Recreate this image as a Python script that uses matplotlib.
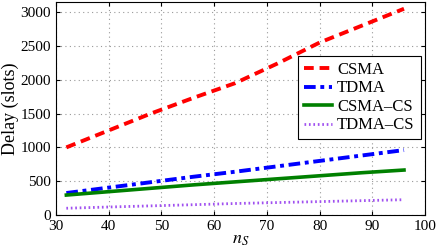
import matplotlib
matplotlib.use("Agg")
import matplotlib.pyplot as plt

n_s = [32, 40, 48, 56, 64, 72, 80, 88, 96]
csma = [1000, 1250, 1500, 1730, 1950, 2240, 2550, 2800, 3050]
tdma = [325, 405, 485, 565, 640, 720, 800, 880, 960]
csma_cs = [295, 345, 395, 445, 490, 535, 580, 625, 665]
tdma_cs = [100, 118, 135, 152, 170, 184, 198, 212, 226]

plt.rcParams['font.family'] = ['Liberation Serif', 'DejaVu Serif']
plt.rcParams['mathtext.fontset'] = 'stix'

fig = plt.figure(figsize=(4.36, 2.5), dpi=100)
ax = fig.add_axes([0.128, 0.14, 0.847, 0.852])

ax.plot(n_s, csma, color='red', linestyle=(0, (2.5, 1.5)), lw=2.8, label='CSMA')
ax.plot(n_s, tdma, color='blue', linestyle=(0, (3, 1.2, 1, 1.2)), lw=2.8, label='TDMA')
ax.plot(n_s, csma_cs, color='green', linestyle='-', lw=2.6, label='CSMA\u2013CS')
ax.plot(n_s, tdma_cs, color='#a050f0', linestyle=(0, (0.6, 1.0)), lw=2.0, label='TDMA\u2013CS')

ax.set_xlim(30, 100)
ax.set_ylim(0, 3150)
ax.set_xticks(range(30, 101, 10))
ax.set_yticks(range(0, 3001, 500))
ax.grid(True, linestyle=(0, (1, 3)), color='#999999', lw=0.8)
ax.tick_params(direction='in', top=True, right=True, labelsize=11, length=3)
for s in ax.spines.values():
    s.set_linewidth(0.8)
ax.set_xlabel('$n_S$', fontsize=13, labelpad=-1)
ax.set_ylabel('Delay (slots)', fontsize=13, labelpad=1)

leg = ax.legend(loc='upper left', bbox_to_anchor=(0.656, 0.746), fontsize=12,
                frameon=True, fancybox=False, edgecolor='black', framealpha=1,
                handlelength=1.7, handletextpad=0.3, borderpad=0.35, labelspacing=0.15,
                borderaxespad=0)
leg.get_frame().set_linewidth(0.8)

fig.savefig('out.png', dpi=100)
